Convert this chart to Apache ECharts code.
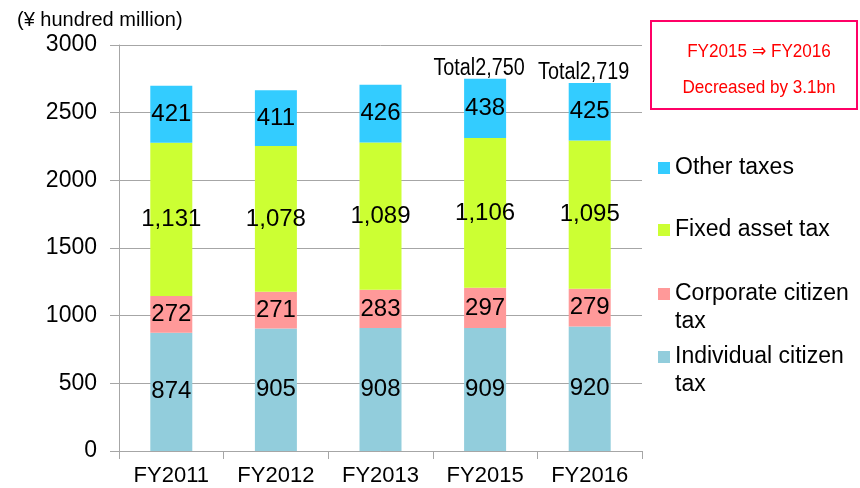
<!DOCTYPE html>
<html>
<head>
<meta charset="utf-8">
<script src="https://cdn.jsdelivr.net/npm/echarts@6/dist/echarts.min.js"></script>
<style>
html,body{margin:0;padding:0;background:#fff;}
#chart{width:860px;height:488px;}
</style>
</head>
<body>
<div id="chart"></div>
<script>
const categories = ['FY2011', 'FY2012', 'FY2013', 'FY2015', 'FY2016'];
const individualTax = [874, 905, 908, 909, 920];
const corporateTax = [272, 271, 283, 297, 279];
const fixedAssetTax = [1131, 1078, 1089, 1106, 1095];
const otherTaxes = [421, 411, 426, 438, 425];
const totals = [null, null, null, 2750, 2719];
const yTicks = [0, 500, 1000, 1500, 2000, 2500, 3000];

const FONT = "'Liberation Sans', Arial, sans-serif";
const fmt = v => v.toLocaleString('en-US');

const barLabel = {
  show: true, position: 'inside', color: '#000', fontFamily: FONT, fontSize: 24,
  formatter: p => fmt(p.value)
};

function barSeries(name, data, color) {
  return {
    name, type: 'bar', stack: 'total', data, barWidth: 42,
    itemStyle: { color }, label: barLabel, emphasis: { disabled: true }
  };
}

const legendBase = {
  orient: 'vertical', left: 653, icon: 'rect', itemWidth: 12, itemHeight: 12,
  selectedMode: false,
  textStyle: { fontFamily: FONT, fontSize: 23, color: '#000', lineHeight: 28 }
};

const totalData = totals.map((v, i) => [i, v]).filter(d => d[1] != null);

const chart = echarts.init(document.getElementById('chart'));
chart.setOption({
  animation: false,
  grid: { left: 119, right: 218, top: 45, bottom: 37 },
  legend: [
    Object.assign({}, legendBase, { top: 149, data: ['Other taxes'] }),
    Object.assign({}, legendBase, { top: 211, data: ['Fixed asset tax'] }),
    Object.assign({}, legendBase, { top: 247, data: ['Corporate citizen tax'],
      formatter: () => ' \nCorporate citizen\ntax' }),
    Object.assign({}, legendBase, { top: 310, data: ['Individual citizen tax'],
      formatter: () => ' \nIndividual citizen\ntax' })
  ],
  xAxis: {
    type: 'category', data: categories,
    axisLine: { lineStyle: { color: '#A6A6A6', width: 1 } },
    axisTick: { show: true, length: 8, lineStyle: { color: '#A6A6A6' } },
    axisLabel: { color: '#000', fontFamily: FONT, fontSize: 22, margin: 14 }
  },
  yAxis: {
    type: 'value', min: yTicks[0], max: yTicks[yTicks.length - 1], interval: 500,
    axisLine: { show: true, lineStyle: { color: '#A6A6A6', width: 1 } },
    axisTick: { show: true, length: 9, lineStyle: { color: '#A6A6A6' } },
    splitLine: { lineStyle: { color: '#A6A6A6', width: 1 } },
    axisLabel: { color: '#000', fontFamily: FONT, fontSize: 23, margin: 22,
      formatter: v => String(v) }
  },
  series: [
    barSeries('Individual citizen tax', individualTax, '#92CDDC'),
    barSeries('Corporate citizen tax', corporateTax, '#FF9999'),
    barSeries('Fixed asset tax', fixedAssetTax, '#CCFF33'),
    barSeries('Other taxes', otherTaxes, '#33CCFF'),
    {
      name: 'Total', type: 'custom', data: totalData, silent: true, z: 10,
      renderItem: (params, api) => {
        const p = api.coord([api.value(0), api.value(1)]);
        return {
          type: 'text', x: p[0] - 6, y: p[1] + 1, scaleX: 0.86,
          style: { text: 'Total' + fmt(api.value(1)), font: '23px ' + FONT,
            fill: '#000', align: 'center', verticalAlign: 'bottom' }
        };
      }
    }
  ],
  graphic: [
    { type: 'text', left: 17, top: 10,
      style: { text: '(¥ hundred million)', font: '20px ' + FONT, fill: '#000' } },
    { type: 'rect', shape: { x: 651, y: 21, width: 206, height: 88 },
      style: { fill: '#fff', stroke: '#FF0066', lineWidth: 2 } },
    { type: 'text', x: 759, y: 52, scaleX: 0.9,
      style: { text: 'FY2015 ⇒ FY2016', font: '19px ' + FONT, fill: '#FF0000',
        align: 'center', verticalAlign: 'middle' } },
    { type: 'text', x: 759, y: 88, scaleX: 0.9,
      style: { text: 'Decreased by 3.1bn', font: '19px ' + FONT, fill: '#FF0000',
        align: 'center', verticalAlign: 'middle' } }
  ]
});
</script>
</body>
</html>
